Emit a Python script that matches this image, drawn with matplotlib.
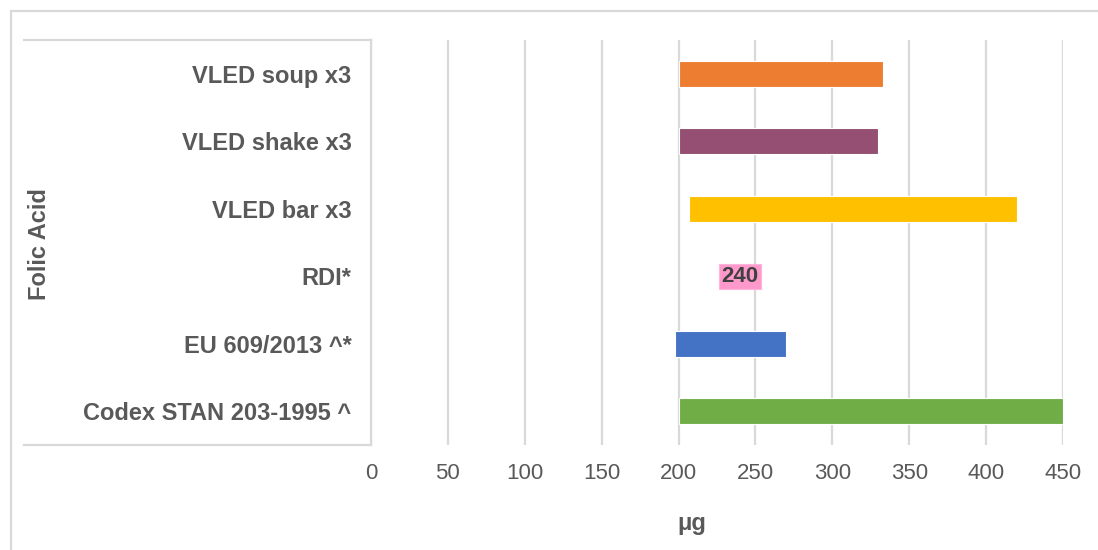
import matplotlib.pyplot as plt
from matplotlib.lines import Line2D
from matplotlib.patches import Rectangle

plt.rcParams['font.family'] = ['Liberation Sans', 'DejaVu Sans']

# data
categories = ['Codex STAN 203-1995 ^', 'EU 609/2013 ^*', 'RDI*',
              'VLED bar x3', 'VLED shake x3', 'VLED soup x3']
low = [200, 198, None, 207, 200, 200]
high = [450, 270, None, 420, 330, 333]
colors = ['#70AD47', '#4472C4', None, '#FFC000', '#954F72', '#ED7D31']
rdi_value = 240
xticks = [0, 50, 100, 150, 200, 250, 300, 350, 400, 450]

W, H = 1098, 550
fig = plt.figure(figsize=(W/100, H/100), dpi=100)
ax = fig.add_axes([371/W, 1-445/H, (1063-371)/W, (445-40)/H])

txt = '#595959'
grid = '#D9D9D9'

for i, (lo, hi, c) in enumerate(zip(low, high, colors)):
    if lo is None:
        continue
    ax.barh(i, hi-lo, left=lo, height=0.39, color=c, edgecolor='white', linewidth=0.8, zorder=3)

# RDI shown only as a data label
ax.text(rdi_value, categories.index('RDI*'), str(rdi_value), ha='center', va='center',
        fontsize=16, fontweight='bold', color='#404040', zorder=4,
        bbox=dict(boxstyle='square,pad=0.1', fc='#FF99CC', ec='#FFB3D9', lw=0.8))

ax.set_xlim(0, 450)
ax.set_ylim(-0.5, len(categories)-0.5)
ax.set_xticks(xticks)
ax.set_xticklabels([str(v) for v in xticks], fontsize=16, color=txt)
ax.set_yticks(range(len(categories)))
ax.set_yticklabels(categories, fontsize=17, fontweight='bold', color=txt)
ax.tick_params(axis='y', length=0, pad=14)
ax.tick_params(axis='x', length=0, pad=13)
ax.grid(axis='x', color=grid, linewidth=1.6, zorder=0)
for s in ax.spines.values():
    s.set_visible(False)
ax.set_xlabel('μg', fontsize=17, fontweight='bold', color=txt, labelpad=20,
              x=(692-371)/(1063-371))

# category box on the left (multi-level axis look)
lc = '#D9D9D9'
fig.add_artist(Line2D([24/W, 371/W], [1-40/H, 1-40/H], color=lc, lw=1.6))
fig.add_artist(Line2D([24/W, 371/W], [1-445/H, 1-445/H], color=lc, lw=1.6))
fig.add_artist(Line2D([371/W, 371/W], [1-40/H, 1-445/H], color=lc, lw=1.6))
fig.text(40/W, 1-244/H, 'Folic Acid', rotation=90, ha='center', va='center',
         fontsize=17, fontweight='bold', color=txt)

# chart outer border
fig.add_artist(Rectangle((11/W, -0.05), 1.1, 1.05-11/H, transform=fig.transFigure,
                         fill=False, ec=lc, lw=1.6))

fig.savefig('out.png', dpi=100)
